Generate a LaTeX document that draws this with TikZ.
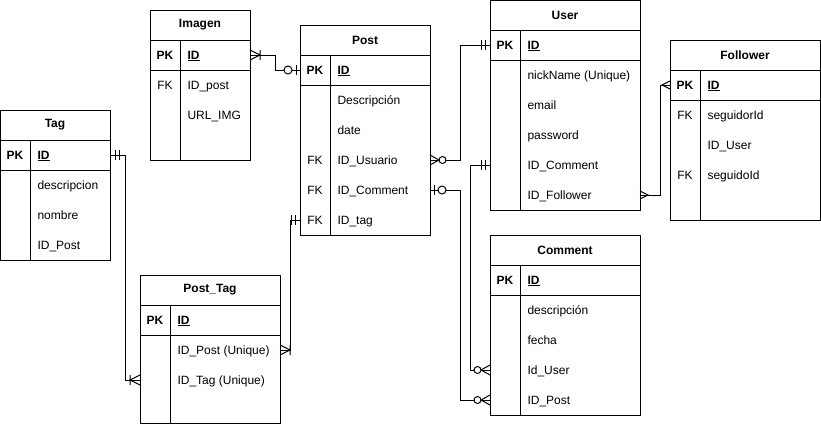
\documentclass[tikz,border=0pt]{standalone}
\usepackage{fontspec}
\setmainfont{Liberation Sans}
\usepackage{tikz}

\tikzset{
  tbl/.style={draw, anchor=north west, inner sep=0, outer sep=0},
  ttl/.style={font=\fontsize{12}{14}\selectfont\bfseries},
  key/.style={text height=10pt, text depth=2pt},
  fld/.style={anchor=west, text height=10pt, text depth=2pt},
  pics/mone/.style={code={\draw (5pt,-5pt) -- (5pt,5pt) (9pt,-5pt) -- (9pt,5pt);}},
  pics/zone/.style={code={\draw (4pt,-5pt) -- (4pt,5pt); \draw[fill=white] (12pt,0pt) circle (4pt);}},
  pics/zmany/.style={code={\draw (0pt,-5pt) -- (9pt,0pt) -- (0pt,5pt); \draw[fill=white] (12.5pt,0pt) circle (3.5pt);}},
  pics/omany/.style={code={\draw (0pt,-5pt) -- (10pt,0pt) -- (0pt,5pt) (10pt,-5pt) -- (10pt,5pt);}},
  pics/many/.style={code={\draw (0pt,-4pt) -- (8pt,0pt) -- (0pt,4pt);}}
}

\begin{document}
\begin{tikzpicture}[x=1pt, y=-1pt, line width=1pt,
  every node/.style={font=\fontsize{12}{14}\selectfont, inner sep=0}]
        \useasboundingbox (0,0) rectangle (821,426);
        % Imagen
        \node[tbl, minimum width=100pt, minimum height=150pt] (imagen) at (150,10) {};
        \draw (150,40) -- (250,40) (150,70) -- (250,70) (180,40) -- (180,160);
        \node[ttl] (imagenT) at (200,25) {Imagen};
        \node[key] (imgPK) at (165,55) {\textbf{PK}};
        \node[fld] (imgID) at (187,55) {\textbf{\underline{ID}}};
        \node[key] (imgFK) at (165,85) {FK};
        \node[fld] (imgPost) at (187,85) {ID\_post};
        \node[fld] (imgURL) at (187,115) {URL\_IMG};
        % Post
        \node[tbl, minimum width=130pt, minimum height=210pt] (post) at (300,25) {};
        \draw (300,55) -- (430,55) (300,85) -- (430,85) (330,55) -- (330,235);
        \node[ttl] (postT) at (365,40) {Post};
        \node[key] (postPK) at (315,70) {\textbf{PK}};
        \node[fld] (postID) at (337,70) {\textbf{\underline{ID}}};
        \node[fld] (postDesc) at (337,100) {Descripción};
        \node[fld] (postDate) at (337,130) {date};
        \node[key] (postFKa) at (315,160) {FK};
        \node[fld] (postUsr) at (337,160) {ID\_Usuario};
        \node[key] (postFKb) at (315,190) {FK};
        \node[fld] (postCom) at (337,190) {ID\_Comment};
        \node[key] (postFKc) at (315,220) {FK};
        \node[fld] (postTag) at (337,220) {ID\_tag};
        % User
        \node[tbl, minimum width=150pt, minimum height=209.5pt] (user) at (490,0.5) {};
        \draw (490,30) -- (640,30) (490,60) -- (640,60) (520,30) -- (520,210);
        \node[ttl] (userT) at (565,15) {User};
        \node[key] (userPK) at (505,45) {\textbf{PK}};
        \node[fld] (userID) at (527,45) {\textbf{\underline{ID}}};
        \node[fld] (userNick) at (527,75) {nickName (Unique)};
        \node[fld] (userMail) at (527,105) {email};
        \node[fld] (userPass) at (527,135) {password};
        \node[fld] (userCom) at (527,165) {ID\_Comment};
        \node[fld] (userFol) at (527,195) {ID\_Follower};
        % Follower
        \node[tbl, minimum width=150pt, minimum height=180pt] (follower) at (670,40) {};
        \draw (670,70) -- (820,70) (670,100) -- (820,100) (700,70) -- (700,220);
        \node[ttl] (followerT) at (745,55) {Follower};
        \node[key] (folPK) at (685,85) {\textbf{PK}};
        \node[fld] (folID) at (707,85) {\textbf{\underline{ID}}};
        \node[key] (folFKa) at (685,115) {FK};
        \node[fld] (folSeguidor) at (707,115) {seguidorId};
        \node[fld] (folUser) at (707,145) {ID\_User};
        \node[key] (folFKb) at (685,175) {FK};
        \node[fld] (folSeguido) at (707,175) {seguidoId};
        % Tag
        \node[tbl, minimum width=109.5pt, minimum height=150pt] (tag) at (0.5,110) {};
        \draw (0,140) -- (110,140) (0,170) -- (110,170) (30,140) -- (30,260);
        \node[ttl] (tagT) at (55,125) {Tag};
        \node[key] (tagPK) at (15,155) {\textbf{PK}};
        \node[fld] (tagID) at (37,155) {\textbf{\underline{ID}}};
        \node[fld] (tagDesc) at (37,185) {descripcion};
        \node[fld] (tagName) at (37,215) {nombre};
        \node[fld] (tagPost) at (37,245) {ID\_Post};
        % Post_Tag
        \node[tbl, minimum width=140pt, minimum height=148pt] (posttag) at (140,275) {};
        \draw (140,305) -- (280,305) (140,335) -- (280,335) (170,305) -- (170,423);
        \node[ttl] (posttagT) at (210,290) {Post\_Tag};
        \node[key] (ptPK) at (155,320) {\textbf{PK}};
        \node[fld] (ptID) at (177,320) {\textbf{\underline{ID}}};
        \node[fld] (ptPost) at (177,350) {ID\_Post (Unique)};
        \node[fld] (ptTag) at (177,380) {ID\_Tag (Unique)};
        % Comment
        \node[tbl, minimum width=150pt, minimum height=180pt] (comment) at (490,235) {};
        \draw (490,265) -- (640,265) (490,295) -- (640,295) (520,265) -- (520,415);
        \node[ttl] (commentT) at (565,250) {Comment};
        \node[key] (comPK) at (505,280) {\textbf{PK}};
        \node[fld] (comID) at (527,280) {\textbf{\underline{ID}}};
        \node[fld] (comDesc) at (527,310) {descripción};
        \node[fld] (comFecha) at (527,340) {fecha};
        \node[fld] (comUser) at (527,370) {Id\_User};
        \node[fld] (comPost) at (527,400) {ID\_Post};
        % relations
        \draw (imgID -| imagen.east) -- ++(25,0) |- (postID -| post.west);
        \draw (postUsr -| post.east) -- ++(30,0) |- (userID -| user.west);
        \draw (postCom -| post.east) -- ++(30,0) |- (comPost -| comment.west);
        \draw (userCom -| user.west) -- ++(-20,0) |- (comUser -| comment.west);
        \draw (userFol -| user.east) -- ++(20,0) |- (folID -| follower.west);
        \draw (tagID -| tag.east) -- ++(15,0) |- (ptTag -| posttag.west);
        \draw (postTag -| post.west) -- ++(-10,0) |- (ptPost -| posttag.east);
        \pic at (imgID -| imagen.east) {omany};
        \pic[rotate=180] at (postID -| post.west) {zone};
        \pic at (postUsr -| post.east) {zmany};
        \pic[rotate=180] at (userID -| user.west) {mone};
        \pic at (postCom -| post.east) {zone};
        \pic[rotate=180] at (comPost -| comment.west) {zmany};
        \pic[rotate=180] at (userCom -| user.west) {mone};
        \pic[rotate=180] at (comUser -| comment.west) {zmany};
        \pic at (userFol -| user.east) {many};
        \pic[rotate=180] at (folID -| follower.west) {many};
        \pic at (tagID -| tag.east) {mone};
        \pic[rotate=180] at (ptTag -| posttag.west) {omany};
        \pic[rotate=180] at (postTag -| post.west) {mone};
        \pic at (ptPost -| posttag.east) {omany};
        \end{tikzpicture}
\end{document}
